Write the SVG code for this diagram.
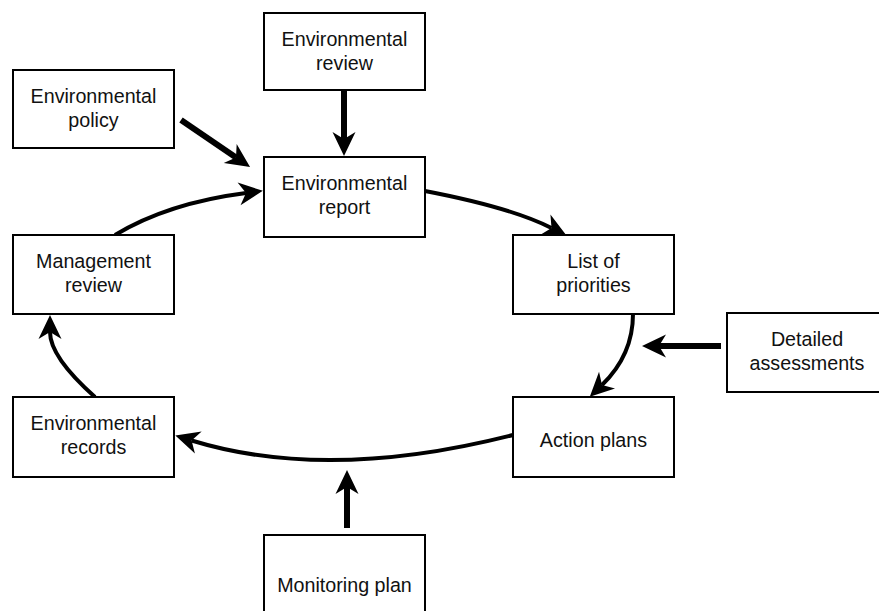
<svg xmlns="http://www.w3.org/2000/svg" width="879" height="611" viewBox="0 0 879 611">
  <style>
    .box rect { fill: #ffffff; stroke: #000000; stroke-width: 2; }
    .box text { font-family: "Liberation Sans", Arial, sans-serif; font-size: 19.7px; fill: #111111; text-anchor: middle; }
    .feed { fill: none; stroke: #000000; stroke-width: 6; marker-end: url(#head); }
    .cycle { fill: none; stroke: #000000; stroke-width: 4; marker-end: url(#head); }
  </style>
  <defs>
    <!-- notched arrowhead; reference point sits at the notch -->
    <marker id="head" markerUnits="userSpaceOnUse" markerWidth="30" markerHeight="30" viewBox="-10 -14 30 28" refX="0" refY="0" orient="auto">
      <path d="M17,0 L-7,-11.5 L0,0 L-7,11.5 Z" fill="#000000"/>
    </marker>
  </defs>
  <rect width="879" height="611" fill="#ffffff"/>

  <g id="connectors">
    <!-- inputs -->
    <path class="feed" d="M344,90 L344,139"/>
    <path class="feed" d="M181,120 L236,157.4"/>
    <path class="feed" d="M721,346 L659,346"/>
    <path class="feed" d="M347,528 L347,487"/>
    <!-- management cycle -->
    <path class="cycle" d="M115,235 Q168,203 246,193"/>
    <path class="cycle" d="M425,191 Q511,207.5 551.5,228"/>
    <path class="cycle" d="M633,314 Q633,355 602,385"/>
    <path class="cycle" d="M513,435 Q327.7,482.25 191.6,440.5"/>
    <path class="cycle" d="M95,397 Q50,357 50,332"/>
  </g>

  <g id="environmental-review" class="box">
    <rect x="264" y="13" width="161" height="77"/>
    <text x="344.5" y="46">Environmental</text>
    <text x="344.5" y="70">review</text>
  </g>
  <g id="environmental-policy" class="box">
    <rect x="13" y="70" width="161" height="78"/>
    <text x="93.5" y="103">Environmental</text>
    <text x="93.5" y="127">policy</text>
  </g>
  <g id="environmental-report" class="box">
    <rect x="264" y="157" width="161" height="80"/>
    <text x="344.5" y="190">Environmental</text>
    <text x="344.5" y="214">report</text>
  </g>
  <g id="list-of-priorities" class="box">
    <rect x="513" y="235" width="161" height="79"/>
    <text x="593.5" y="268">List of</text>
    <text x="593.5" y="292">priorities</text>
  </g>
  <g id="detailed-assessments" class="box">
    <rect x="727" y="313" width="160" height="79"/>
    <text x="807" y="346">Detailed</text>
    <text x="807" y="370">assessments</text>
  </g>
  <g id="action-plans" class="box">
    <rect x="513" y="397" width="161" height="80"/>
    <text x="593.5" y="447">Action plans</text>
  </g>
  <g id="environmental-records" class="box">
    <rect x="13" y="397" width="161" height="80"/>
    <text x="93.5" y="430">Environmental</text>
    <text x="93.5" y="454">records</text>
  </g>
  <g id="management-review" class="box">
    <rect x="13" y="235" width="161" height="79"/>
    <text x="93.5" y="268">Management</text>
    <text x="93.5" y="292">review</text>
  </g>
  <g id="monitoring-plan" class="box">
    <rect x="264" y="535" width="161" height="80"/>
    <text x="344.5" y="592">Monitoring plan</text>
  </g>
</svg>
